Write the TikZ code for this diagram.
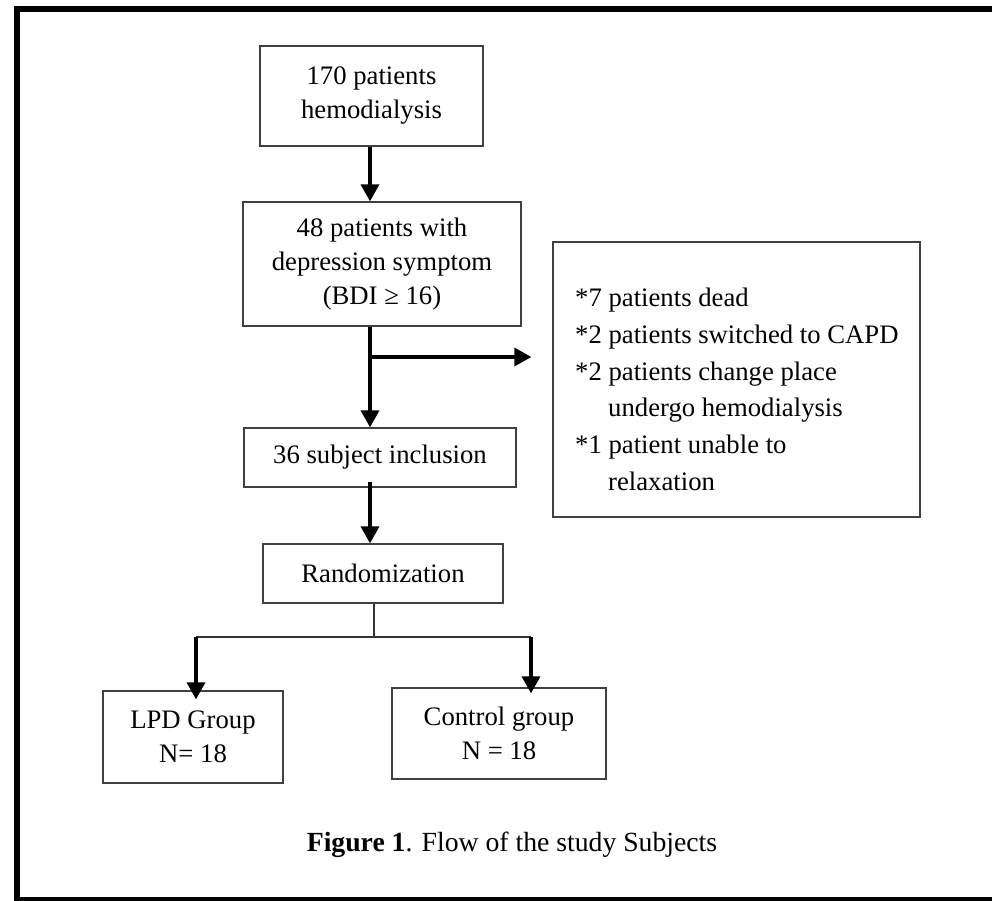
\documentclass[tikz,border=0pt]{standalone}
\usepackage{fontspec}
\setmainfont{Liberation Serif}
\usetikzlibrary{arrows.meta}
\begin{document}
\begin{tikzpicture}[x=1pt,y=-1pt,
  box/.style={draw=black!75,line width=1.3pt,rectangle,inner sep=0pt,align=center,
    font=\fontsize{26.7}{34}\selectfont},
  arr/.style={line width=3.6pt,-{Triangle[length=17pt,width=18pt]}},
  thin/.style={line width=1.3pt,draw=black!80}]
\useasboundingbox (0,0) rectangle (992,901);
\begin{scope}
\clip (0,0) rectangle (992,901);
\draw[line width=6pt] (17,1000) -- (17,9) -- (1100,9);
\draw[line width=6pt] (17,899.5) -- (1100,899.5);
\end{scope}
% boxes
\node[box,minimum width=223pt,minimum height=100pt] (b1) at (371.5,96) {170 patients\\hemodialysis};
\node[box,minimum width=278pt,minimum height=124pt] (b2) at (382,264) {48 patients with\\depression symptom\\(BDI ≥ 16)};
\node[box,minimum width=272pt,minimum height=59pt] (b3) at (380,457.5) {36 subject inclusion};
\node[box,minimum width=240pt,minimum height=59pt] (b4) at (383,573.5) {Randomization};
\node[box,minimum width=180pt,minimum height=92pt] (b5) at (193,737) {LPD Group\\N= 18};
\node[box,minimum width=214pt,minimum height=91pt] (b6) at (499,733.5) {Control group\\N = 18};
\node[draw=black!75,line width=1.3pt,minimum width=367pt,minimum height=275pt,inner sep=0pt] (b7) at (736.5,379.5) {};
\node[anchor=north west,align=left,inner sep=0pt,font=\fontsize{26.7}{36.7}\selectfont] (t7) at (575,288)
  {*7 patients dead\\*2 patients switched to CAPD\\*2 patients change place\\\hspace*{33pt}undergo hemodialysis\\*1 patient unable to\\\hspace*{33pt}relaxation};
% caption
\node[font=\fontsize{27.7}{32}\selectfont] (cap) at (512,845) {\textbf{Figure 1}. Flow of the study Subjects};
% connectors
\coordinate (mx) at (370,0);
\coordinate (br) at (370,357);
\coordinate (rx) at (374,0);
\coordinate (sp) at (374,637);
\coordinate (lx) at (196,637);
\coordinate (ry) at (531,637);
\draw[arr] (b1.south -| mx) -- (b2.north -| mx);
\draw[arr] (b2.south -| mx) -- (b3.north -| mx);
\draw[arr] (br) -- ([xshift=-21pt]b7.west |- br);
\draw[arr] ([yshift=6pt]b3.south -| mx) -- (b4.north -| mx);
\draw[thin] (b4.south -| rx) -- (sp);
\draw[thin] (lx) -- (ry);
\draw[arr] (lx) -- ([yshift=-9pt]b5.north -| lx);
\draw[arr] (ry) -- ([yshift=-6pt]b6.north -| ry);
\end{tikzpicture}
\end{document}
